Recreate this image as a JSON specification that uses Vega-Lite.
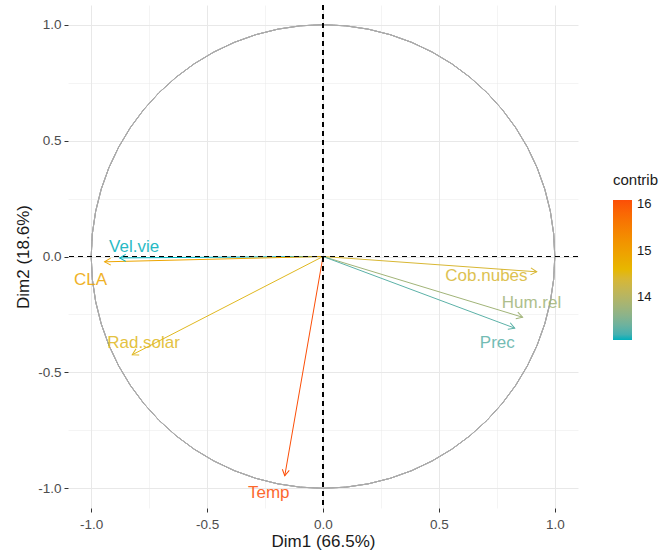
{
  "$schema": "https://vega.github.io/schema/vega-lite/v6.json",
  "width": 510,
  "height": 503,
  "autosize": {"type": "none"},
  "padding": {"left": 68, "top": 5, "right": 82, "bottom": 51},
  "background": "white",
  "config": {
    "font": "Liberation Sans",
    "view": {"stroke": null},
    "axis": {
      "domain": false,
      "gridColor": "#E8E8E8",
      "tickColor": "#333333",
      "tickSize": 4,
      "labelFontSize": 13.5,
      "labelColor": "#4D4D4D",
      "titleFontSize": 17,
      "titleFontWeight": "normal",
      "titleColor": "#1A1A1A"
    }
  },
  "resolve": {"legend": {"color": "independent"}},
  "data": {
    "values": [
      {"var": "Vel.vie", "Dim1": -0.877, "Dim2": -0.006, "contrib": 13.08, "lab_x": -0.815, "lab_y": 0.043},
      {"var": "CLA", "Dim1": -0.942, "Dim2": -0.023, "contrib": 14.9, "lab_x": -1.003, "lab_y": -0.1},
      {"var": "Cob.nubes", "Dim1": 0.922, "Dim2": -0.066, "contrib": 14.4, "lab_x": 0.705, "lab_y": -0.086},
      {"var": "Hum.rel", "Dim1": 0.861, "Dim2": -0.262, "contrib": 13.8, "lab_x": 0.899, "lab_y": -0.201},
      {"var": "Prec", "Dim1": 0.827, "Dim2": -0.309, "contrib": 13.3, "lab_x": 0.752, "lab_y": -0.374},
      {"var": "Rad.solar", "Dim1": -0.823, "Dim2": -0.424, "contrib": 14.5, "lab_x": -0.774, "lab_y": -0.374},
      {"var": "Temp", "Dim1": -0.165, "Dim2": -0.946, "contrib": 16.09, "lab_x": -0.234, "lab_y": -1.02}
    ]
  },
  "layer": [
    {
      "mark": {"type": "rule", "strokeWidth": 1},
      "encoding": {
        "x": {
          "field": "Dim1", "type": "quantitative", "title": "Dim1 (66.5%)",
          "scale": {"domain": [-1.1, 1.1], "nice": false, "zero": false},
          "axis": {
            "values": [-1, -0.75, -0.5, -0.25, 0, 0.25, 0.5, 0.75, 1],
            "labelExpr": "abs(datum.value*2 - round(datum.value*2)) < 0.01 ? (datum.value < 0 ? '-' : '') + format(abs(datum.value), '.1f') : ''",
            "gridWidth": {"condition": {"test": "abs(datum.value*2 - round(datum.value*2)) < 0.01", "value": 1}, "value": 0.5},
            "tickOpacity": {"condition": {"test": "abs(datum.value*2 - round(datum.value*2)) < 0.01", "value": 1}, "value": 0},
            "labelPadding": 5,
            "titlePadding": 3
          }
        },
        "y": {
          "field": "Dim2", "type": "quantitative", "title": "Dim2 (18.6%)",
          "scale": {"domain": [-1.085, 1.085], "nice": false, "zero": false},
          "axis": {
            "values": [-1, -0.75, -0.5, -0.25, 0, 0.25, 0.5, 0.75, 1],
            "labelExpr": "abs(datum.value*2 - round(datum.value*2)) < 0.01 ? (datum.value < 0 ? '-' : '') + format(abs(datum.value), '.1f') : ''",
            "gridWidth": {"condition": {"test": "abs(datum.value*2 - round(datum.value*2)) < 0.01", "value": 1}, "value": 0.5},
            "tickOpacity": {"condition": {"test": "abs(datum.value*2 - round(datum.value*2)) < 0.01", "value": 1}, "value": 0},
            "labelPadding": 3,
            "titlePadding": 5
          }
        },
        "x2": {"datum": 0},
        "y2": {"datum": 0},
        "color": {
          "field": "contrib", "type": "quantitative",
          "scale": {"domain": [13.08, 16.09], "range": ["#00AFBB", "#E7B800", "#FC4E07"], "interpolate": "lab"},
          "legend": {
            "type": "gradient",
            "title": "contrib",
            "orient": "none",
            "legendX": 545,
            "legendY": 168,
            "values": [14, 15, 16],
            "format": "d",
            "gradientLength": 140,
            "gradientThickness": 19,
            "gradientStrokeWidth": 0,
            "titleFontSize": 15,
            "titleFontWeight": "normal",
            "titleColor": "#1A1A1A",
            "titlePadding": 12,
            "labelFontSize": 13,
            "labelColor": "#1A1A1A",
            "labelOffset": 5
          }
        }
      }
    },
    {
      "mark": {"type": "point", "shape": "circle", "filled": false, "size": 214900, "stroke": "#AAAAAA", "strokeWidth": 0.7, "opacity": 1},
      "encoding": {
        "x": {"datum": 0, "type": "quantitative", "title": "Dim1 (66.5%)"},
        "y": {"datum": 0, "type": "quantitative", "title": "Dim2 (18.6%)"}
      }
    },
    {
      "mark": {"type": "rule", "color": "black", "strokeDash": [5, 4], "strokeWidth": 1},
      "encoding": {"x": {"datum": 0, "type": "quantitative", "title": "Dim1 (66.5%)"}}
    },
    {
      "mark": {"type": "rule", "color": "black", "strokeDash": [5, 4], "strokeWidth": 1},
      "encoding": {"y": {"datum": 0, "type": "quantitative", "title": "Dim2 (18.6%)"}}
    },
    {
      "transform": [{"calculate": "(atan2(datum.Dim1, datum.Dim2) * 180 / PI + 360) % 360", "as": "ang"}],
      "mark": {"type": "point", "shape": "M-0.5,0.866L0,0L0.5,0.866", "filled": false, "size": 196, "strokeWidth": 1, "opacity": 1},
      "encoding": {
        "x": {"field": "Dim1", "type": "quantitative", "title": "Dim1 (66.5%)"},
        "y": {"field": "Dim2", "type": "quantitative", "title": "Dim2 (18.6%)"},
        "color": {"field": "contrib", "type": "quantitative", "legend": null},
        "angle": {"field": "ang", "type": "quantitative", "scale": null}
      }
    },
    {
      "mark": {"type": "text", "fontSize": 17, "align": "center", "baseline": "middle", "opacity": 0.85},
      "encoding": {
        "x": {"field": "lab_x", "type": "quantitative", "title": "Dim1 (66.5%)"},
        "y": {"field": "lab_y", "type": "quantitative", "title": "Dim2 (18.6%)"},
        "text": {"field": "var"},
        "color": {"field": "contrib", "type": "quantitative", "legend": null}
      }
    }
  ]
}
